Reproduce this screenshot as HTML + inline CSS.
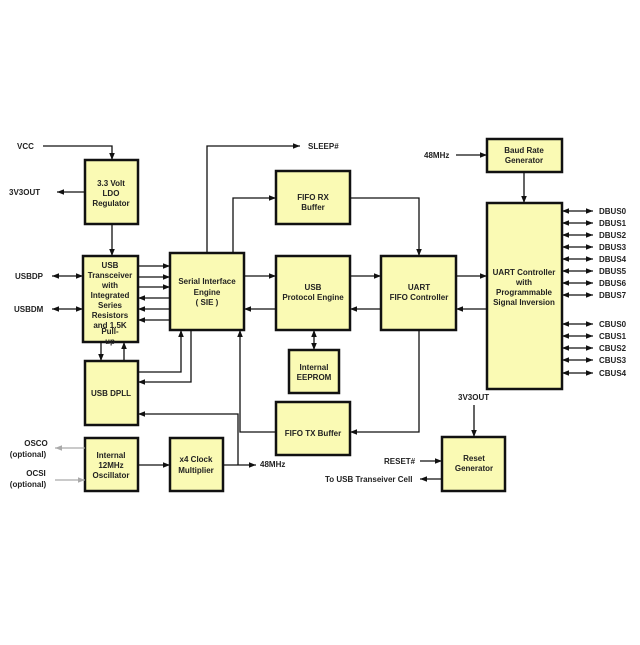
<!DOCTYPE html>
<html><head><meta charset="utf-8"><style>
html,body{margin:0;padding:0;background:#fff;}
svg text{font-family:"Liberation Sans",Arial,sans-serif;font-weight:bold;font-size:8px;fill:#222;}
</style></head><body>
<svg width="640" height="640" viewBox="0 0 640 640" xmlns="http://www.w3.org/2000/svg">
<defs>
<marker id="a" viewBox="0 0 10 10" refX="10" refY="5" markerWidth="7" markerHeight="7" orient="auto-start-reverse" markerUnits="userSpaceOnUse"><path d="M0,1 L10,5 L0,9 z" fill="#111"/></marker>
<marker id="g" viewBox="0 0 10 10" refX="10" refY="5" markerWidth="7" markerHeight="7" orient="auto-start-reverse" markerUnits="userSpaceOnUse"><path d="M0,1 L10,5 L0,9 z" fill="#aaa"/></marker>
</defs>
<g fill="#fafab4" stroke="#111" stroke-width="2.5">
<rect x="85" y="160" width="53" height="64"/>
<rect x="83" y="256" width="55" height="86"/>
<rect x="170" y="253" width="74" height="77"/>
<rect x="85" y="361" width="53" height="64"/>
<rect x="85" y="438" width="53" height="53"/>
<rect x="170" y="438" width="53" height="53"/>
<rect x="276" y="171" width="74" height="53"/>
<rect x="276" y="256" width="74" height="74"/>
<rect x="381" y="256" width="75" height="74"/>
<rect x="289" y="350" width="50" height="43"/>
<rect x="276" y="402" width="74" height="53"/>
<rect x="487" y="139" width="75" height="33"/>
<rect x="487" y="203" width="75" height="186"/>
<rect x="442" y="437" width="63" height="54"/>
</g>
<g stroke="#111" stroke-width="1.3" fill="none" marker-end="url(#a)">
<path d="M43,146 H112 V160"/>
<path d="M85,192 H57"/>
<path d="M112,224 V256"/>
<path d="M52,276 H83" marker-start="url(#a)"/>
<path d="M52,309 H83" marker-start="url(#a)"/>
<path d="M138,266 H170"/><path d="M138,277 H170"/><path d="M138,287 H170"/>
<path d="M170,298 H138"/><path d="M170,309 H138"/><path d="M170,320 H138"/>
<path d="M101,342 V361"/>
<path d="M124,361 V342"/>
<path d="M138,372 H181 V330"/>
<path d="M191,330 V382 H138"/>
<path d="M238,465 V414 H138"/>
<path d="M276,432 H240 V330"/>
<path d="M207,253 V146 H300"/>
<path d="M233,253 V198 H276"/>
<path d="M244,276 H276"/>
<path d="M276,309 H244"/>
<path d="M350,198 H419 V256"/>
<path d="M350,276 H381"/>
<path d="M381,309 H350"/>
<path d="M456,276 H487"/>
<path d="M487,309 H456"/>
<path d="M419,330 V432 H350"/>
<path d="M314,330 V350" marker-start="url(#a)"/>
<path d="M456,155 H487"/>
<path d="M524,172 V203"/>
<path d="M138,465 H170"/>
<path d="M223,465 H256"/>
<path d="M474,405 V437"/>
<path d="M420,461 H442"/>
<path d="M442,479 H420"/>
<path d="M562,211 H593" marker-start="url(#a)"/>
<path d="M562,223 H593" marker-start="url(#a)"/>
<path d="M562,235 H593" marker-start="url(#a)"/>
<path d="M562,247 H593" marker-start="url(#a)"/>
<path d="M562,259 H593" marker-start="url(#a)"/>
<path d="M562,271 H593" marker-start="url(#a)"/>
<path d="M562,283 H593" marker-start="url(#a)"/>
<path d="M562,295 H593" marker-start="url(#a)"/>
<path d="M562,324 H593" marker-start="url(#a)"/>
<path d="M562,336 H593" marker-start="url(#a)"/>
<path d="M562,348 H593" marker-start="url(#a)"/>
<path d="M562,360 H593" marker-start="url(#a)"/>
<path d="M562,373 H593" marker-start="url(#a)"/>
</g>
<g stroke="#aaa" stroke-width="1.3" fill="none" marker-end="url(#g)">
<path d="M85,448 H55"/>
<path d="M55,480 H85"/>
</g>
<g text-anchor="middle">
<text x="111" y="186">3.3 Volt</text><text x="111" y="196">LDO</text><text x="111" y="206">Regulator</text>
<text x="110" y="268">USB</text><text x="110" y="278">Transceiver</text><text x="110" y="288">with</text><text x="110" y="298">Integrated</text><text x="110" y="308">Series</text><text x="110" y="318">Resistors</text><text x="110" y="328">and 1.5K</text><text x="110" y="334">Pull-</text><text x="110" y="344">up</text>
<text x="207" y="284">Serial Interface</text><text x="207" y="295">Engine</text><text x="207" y="305">( SIE )</text>
<text x="111" y="396">USB DPLL</text>
<text x="111" y="458">Internal</text><text x="111" y="468">12MHz</text><text x="111" y="478">Oscillator</text>
<text x="196" y="462">x4 Clock</text><text x="196" y="473">Multiplier</text>
<text x="313" y="200">FIFO RX</text><text x="313" y="210">Buffer</text>
<text x="313" y="290">USB</text><text x="313" y="300">Protocol Engine</text>
<text x="419" y="290">UART</text><text x="419" y="300">FIFO Controller</text>
<text x="314" y="370">Internal</text><text x="314" y="380">EEPROM</text>
<text x="313" y="436">FIFO TX Buffer</text>
<text x="524" y="153">Baud Rate</text><text x="524" y="163">Generator</text>
<text x="524" y="275">UART Controller</text><text x="524" y="285">with</text><text x="524" y="295">Programmable</text><text x="524" y="305">Signal Inversion</text>
<text x="474" y="461">Reset</text><text x="474" y="471">Generator</text>
<text x="36" y="446">OSCO</text><text x="28" y="457">(optional)</text>
<text x="36" y="476">OCSI</text><text x="28" y="487">(optional)</text>
</g>
<text x="17" y="149">VCC</text>
<text x="9" y="195">3V3OUT</text>
<text x="15" y="279">USBDP</text>
<text x="14" y="312">USBDM</text>
<text x="308" y="149">SLEEP#</text>
<text x="424" y="158">48MHz</text>
<text x="260" y="467">48MHz</text>
<text x="458" y="400">3V3OUT</text>
<text x="384" y="464">RESET#</text>
<text x="325" y="482">To USB Transeiver Cell</text>
<g>
<text x="599" y="214">DBUS0</text><text x="599" y="226">DBUS1</text><text x="599" y="238">DBUS2</text><text x="599" y="250">DBUS3</text><text x="599" y="262">DBUS4</text><text x="599" y="274">DBUS5</text><text x="599" y="286">DBUS6</text><text x="599" y="298">DBUS7</text>
<text x="599" y="327">CBUS0</text><text x="599" y="339">CBUS1</text><text x="599" y="351">CBUS2</text><text x="599" y="363">CBUS3</text><text x="599" y="376">CBUS4</text>
</g>
</svg>
</body></html>
